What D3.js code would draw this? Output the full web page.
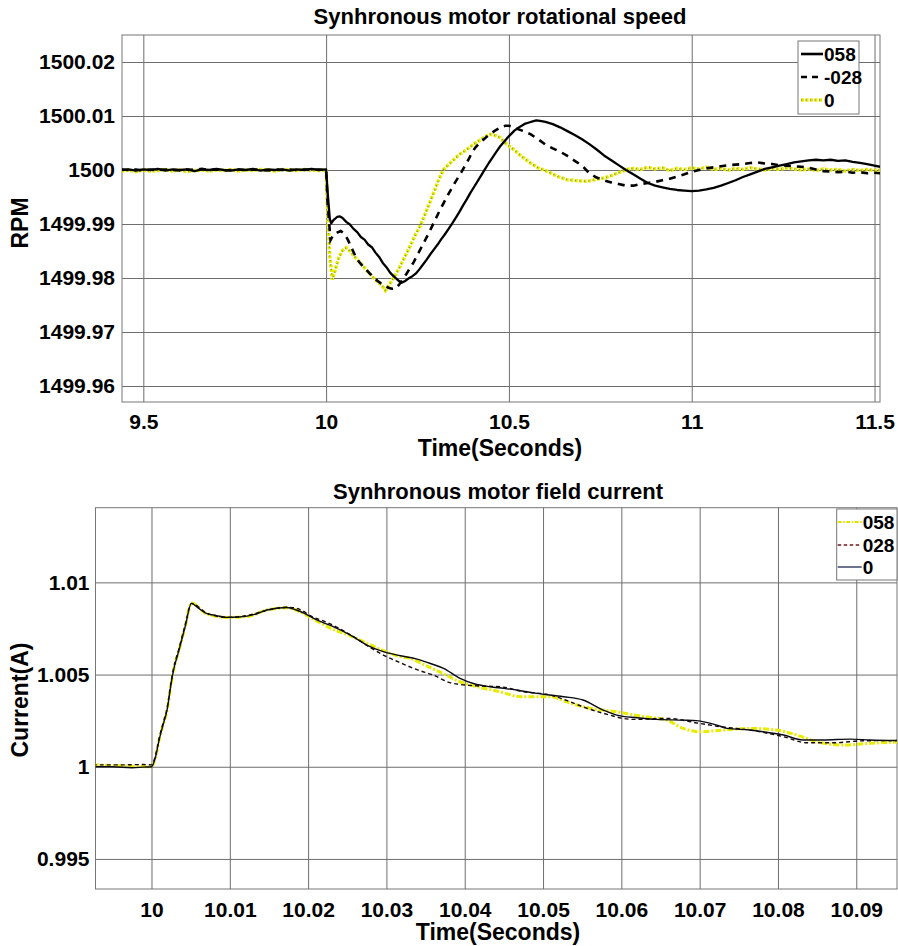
<!DOCTYPE html>
<html>
<head>
<meta charset="utf-8">
<script src="https://cdn.jsdelivr.net/npm/d3@7"></script>
<style>
  body { margin: 0; background: #fff; }
  svg text { font-family: "Liberation Sans", Arial, sans-serif; font-weight: bold; fill: #000; }
</style>
</head>
<body>
<div id="chart"></div>
<script>
// ---------- Top plot: rotational speed (RPM) ----------
var speedTicksX = [9.5, 10, 10.5, 11, 11.5];
var speedTicksY = [1499.96, 1499.97, 1499.98, 1499.99, 1500, 1500.01, 1500.02];

var speedTime058 = [9.44, 9.46, 9.48, 9.50, 9.52, 9.54, 9.56, 9.58, 9.60, 9.62, 9.64, 9.66, 9.68, 9.70, 9.72, 9.74, 9.76, 9.78, 9.80, 9.82, 9.84, 9.86, 9.88, 9.90, 9.92, 9.94, 9.96, 9.98, 10.00,
  10.004, 10.010, 10.014, 10.020, 10.030, 10.038, 10.045, 10.055, 10.065, 10.075, 10.085, 10.095, 10.105, 10.115, 10.125, 10.135, 10.145, 10.155, 10.165, 10.175, 10.185, 10.195, 10.205,
  10.215, 10.225, 10.235, 10.245, 10.255, 10.265, 10.275, 10.285, 10.295, 10.305, 10.315, 10.325, 10.335, 10.345, 10.355, 10.365, 10.375, 10.385, 10.395, 10.405, 10.415, 10.425, 10.435, 10.445,
  10.455, 10.465, 10.475, 10.485, 10.495, 10.505, 10.515, 10.525, 10.535, 10.545, 10.555, 10.565, 10.575, 10.585, 10.60, 10.62, 10.64, 10.66, 10.68, 10.70, 10.72, 10.74, 10.76, 10.78, 10.80,
  10.82, 10.84, 10.86, 10.88, 10.90, 10.92, 10.94, 10.96, 10.98, 11.00, 11.02, 11.04, 11.06, 11.08, 11.10, 11.12, 11.14, 11.16, 11.18, 11.20, 11.22, 11.24, 11.26, 11.28, 11.30, 11.32, 11.34,
  11.36, 11.38, 11.40, 11.42, 11.44, 11.46, 11.48, 11.50, 11.515];
var speed058 = [1500.0000, 1500.0001, 1499.9999, 1500.0001, 1500.0000, 1500.0002, 1499.9999, 1500.0001, 1500.0000, 1500.0001, 1499.9998, 1500.0001, 1500.0000, 1500.0002, 1500.0000, 1499.9999, 1500.0001, 1500.0000, 1500.0002, 1499.9999, 1500.0001, 1500.0000, 1500.0001, 1499.9999, 1500.0001, 1500.0000, 1500.0002, 1500.0000, 1500.0001,
  1499.9960, 1499.9910, 1499.9901, 1499.9907, 1499.9913, 1499.9914, 1499.9911, 1499.9904, 1499.9899, 1499.9891, 1499.9885, 1499.9876, 1499.9871, 1499.9862, 1499.9857, 1499.9847, 1499.9839, 1499.9828, 1499.9820, 1499.9810, 1499.9803, 1499.9797, 1499.9791,
  1499.9794, 1499.9799, 1499.9803, 1499.9808, 1499.9816, 1499.9825, 1499.9834, 1499.9844, 1499.9853, 1499.9862, 1499.9872, 1499.9881, 1499.9891, 1499.9901, 1499.9912, 1499.9923, 1499.9935, 1499.9946, 1499.9958, 1499.9969, 1499.9980, 1499.9991, 1500.0002, 1500.0013,
  1500.0023, 1500.0033, 1500.0043, 1500.0051, 1500.0059, 1500.0066, 1500.0073, 1500.0078, 1500.0082, 1500.0086, 1500.0088, 1500.0090, 1500.0092, 1500.0091, 1500.0089, 1500.0085, 1500.0079, 1500.0072, 1500.0065, 1500.0057, 1500.0048, 1500.0038, 1500.0027, 1500.0018, 1500.0009,
  1500.0000, 1499.9992, 1499.9984, 1499.9976, 1499.9971, 1499.9968, 1499.9965, 1499.9963, 1499.9962, 1499.9961, 1499.9962, 1499.9964, 1499.9967, 1499.9971, 1499.9976, 1499.9981, 1499.9987, 1499.9992, 1499.9997, 1500.0002, 1500.0005, 1500.0008, 1500.0011, 1500.0014, 1500.0016, 1500.0018, 1500.0019,
  1500.0018, 1500.0019, 1500.0017, 1500.0018, 1500.0015, 1500.0013, 1500.0011, 1500.0008, 1500.0006];

var speedTime028 = [9.44, 9.46, 9.48, 9.50, 9.52, 9.54, 9.56, 9.58, 9.60, 9.62, 9.64, 9.66, 9.68, 9.70, 9.72, 9.74, 9.76, 9.78, 9.80, 9.82, 9.84, 9.86, 9.88, 9.90, 9.92, 9.94, 9.96, 9.98, 10.00,
  10.004, 10.012, 10.020, 10.030, 10.040, 10.050, 10.060, 10.070, 10.080, 10.090, 10.100, 10.110, 10.120, 10.130, 10.140, 10.150, 10.160, 10.170, 10.180, 10.190, 10.200, 10.210, 10.220, 10.230,
  10.240, 10.250, 10.260, 10.270, 10.280, 10.290, 10.300, 10.310, 10.320, 10.330, 10.340, 10.350, 10.360, 10.370, 10.380, 10.390, 10.400, 10.410, 10.420, 10.430, 10.440, 10.450, 10.460, 10.470,
  10.480, 10.490, 10.500, 10.510, 10.520, 10.540, 10.560, 10.580, 10.600, 10.620, 10.640, 10.660, 10.680, 10.700, 10.720, 10.740, 10.760, 10.780, 10.800, 10.820, 10.840, 10.860, 10.880, 10.900,
  10.920, 10.940, 10.960, 10.980, 11.000, 11.020, 11.040, 11.060, 11.080, 11.100, 11.120, 11.140, 11.160, 11.180, 11.200, 11.220, 11.240, 11.260, 11.280, 11.300, 11.320, 11.340, 11.360, 11.380,
  11.400, 11.420, 11.440, 11.460, 11.480, 11.500, 11.515];
var speed028 = [1500.0001, 1500.0000, 1500.0001, 1499.9999, 1500.0001, 1500.0000, 1500.0001, 1500.0000, 1499.9999, 1500.0001, 1500.0000, 1500.0002, 1500.0000, 1500.0001, 1499.9999, 1500.0000, 1500.0001, 1500.0000, 1500.0001, 1500.0000, 1499.9999, 1500.0001, 1500.0000, 1500.0001, 1500.0000, 1500.0001, 1500.0000, 1500.0001, 1500.0000,
  1499.9940, 1499.9870, 1499.9880, 1499.9884, 1499.9887, 1499.9882, 1499.9870, 1499.9855, 1499.9841, 1499.9830, 1499.9822, 1499.9815, 1499.9808, 1499.9802, 1499.9795, 1499.9790, 1499.9786, 1499.9782, 1499.9780, 1499.9780, 1499.9788, 1499.9798, 1499.9808, 1499.9819,
  1499.9830, 1499.9843, 1499.9856, 1499.9869, 1499.9882, 1499.9896, 1499.9910, 1499.9924, 1499.9937, 1499.9950, 1499.9962, 1499.9974, 1499.9985, 1499.9996, 1500.0008, 1500.0020, 1500.0034, 1500.0043, 1500.0050, 1500.0056, 1500.0062, 1500.0067, 1500.0072, 1500.0076,
  1500.0080, 1500.0082, 1500.0082, 1500.0080, 1500.0077, 1500.0072, 1500.0066, 1500.0057, 1500.0047, 1500.0040, 1500.0034, 1500.0026, 1500.0017, 1500.0008, 1499.9994, 1499.9986, 1499.9981, 1499.9977, 1499.9974, 1499.9971, 1499.9971, 1499.9974, 1499.9976, 1499.9978,
  1499.9981, 1499.9984, 1499.9988, 1499.9992, 1499.9997, 1500.0000, 1500.0003, 1500.0005, 1500.0007, 1500.0009, 1500.0010, 1500.0011, 1500.0013, 1500.0014, 1500.0012, 1500.0011, 1500.0009, 1500.0008, 1500.0007, 1500.0006, 1500.0004, 1500.0001, 1499.9998, 1499.9997,
  1499.9996, 1499.9997, 1499.9995, 1499.9996, 1499.9994, 1499.9995, 1499.9994];

var speedTime0 = [9.44, 9.46, 9.48, 9.50, 9.52, 9.54, 9.56, 9.58, 9.60, 9.62, 9.64, 9.66, 9.68, 9.70, 9.72, 9.74, 9.76, 9.78, 9.80, 9.82, 9.84, 9.86, 9.88, 9.90, 9.92, 9.94, 9.96, 9.98, 10.00,
  10.004, 10.010, 10.017, 10.025, 10.035, 10.045, 10.055, 10.065, 10.075, 10.085, 10.095, 10.105, 10.115, 10.125, 10.135, 10.145, 10.153, 10.162, 10.170, 10.176, 10.186, 10.198, 10.210, 10.221,
  10.233, 10.245, 10.257, 10.270, 10.283, 10.296, 10.308, 10.321, 10.335, 10.349, 10.365, 10.385, 10.400, 10.422, 10.435, 10.449, 10.462, 10.476, 10.490, 10.503, 10.513, 10.530, 10.545, 10.559,
  10.580, 10.604, 10.630, 10.659, 10.690, 10.714, 10.740, 10.760, 10.778, 10.800, 10.823, 10.84, 10.86, 10.88, 10.90, 10.92, 10.94, 10.96, 10.98, 11.00, 11.02, 11.04, 11.06, 11.08, 11.10,
  11.12, 11.14, 11.16, 11.18, 11.20, 11.22, 11.24, 11.26, 11.28, 11.30, 11.32, 11.34, 11.36, 11.38, 11.40, 11.42, 11.44, 11.46, 11.48, 11.50, 11.515];
var speed0 = [1499.9998, 1500.0000, 1499.9997, 1500.0000, 1499.9998, 1499.9999, 1500.0001, 1499.9998, 1500.0000, 1499.9997, 1499.9999, 1500.0000, 1499.9998, 1500.0000, 1499.9999, 1500.0001, 1499.9998, 1500.0000, 1499.9999, 1500.0001, 1500.0000, 1499.9998, 1500.0001, 1500.0000, 1499.9999, 1500.0001, 1500.0000, 1499.9999, 1500.0000,
  1499.9920, 1499.9840, 1499.9797, 1499.9815, 1499.9838, 1499.9851, 1499.9856, 1499.9850, 1499.9842, 1499.9834, 1499.9827, 1499.9819, 1499.9811, 1499.9804, 1499.9796, 1499.9791, 1499.9786, 1499.9777, 1499.9784, 1499.9791, 1499.9802, 1499.9816, 1499.9832, 1499.9847,
  1499.9864, 1499.9881, 1499.9896, 1499.9917, 1499.9939, 1499.9961, 1499.9982, 1500.0001, 1500.0010, 1500.0019, 1500.0029, 1500.0038, 1500.0046, 1500.0056, 1500.0062, 1500.0066, 1500.0064, 1500.0060, 1500.0050, 1500.0043, 1500.0038, 1500.0028, 1500.0020, 1500.0013,
  1500.0004, 1499.9998, 1499.9989, 1499.9982, 1499.9980, 1499.9979, 1499.9983, 1499.9985, 1499.9989, 1499.9995, 1500.0001, 1500.0003, 1500.0001, 1500.0005, 1500.0002, 1500.0004, 1499.9999, 1500.0003, 1500.0001, 1500.0004, 1500.0002, 1500.0005, 1500.0001, 1500.0003, 1500.0000,
  1500.0003, 1500.0001, 1500.0004, 1500.0002, 1500.0000, 1500.0003, 1500.0001, 1500.0004, 1500.0002, 1500.0000, 1500.0002, 1499.9999, 1500.0002, 1500.0000, 1500.0001, 1499.9998, 1500.0001, 1499.9999, 1500.0001, 1499.9999, 1500.0000];

// ---------- Bottom plot: field current (A) ----------
var currentTicksX = [10, 10.01, 10.02, 10.03, 10.04, 10.05, 10.06, 10.07, 10.08, 10.09];
var currentTicksY = [0.995, 1, 1.005, 1.01];

var currentTime058 = [9.9925, 9.9960, 10.0000, 10.0005, 10.0010, 10.0015, 10.0020, 10.0025, 10.0028, 10.0035, 10.0043, 10.0051, 10.0070, 10.0096, 10.0122, 10.0147, 10.0173, 10.0190, 10.0207, 10.0232,
  10.0254, 10.0275, 10.0296, 10.0315, 10.0330, 10.0350, 10.0370, 10.0394, 10.0420, 10.0445, 10.0471, 10.0509, 10.0530, 10.0560, 10.0594, 10.0624, 10.0658, 10.0679, 10.0700, 10.0730, 10.0764,
  10.0798, 10.0824, 10.0849, 10.0884, 10.0918, 10.0952];
var current058 = [1.0001, 1.00005, 1.0000, 1.0005, 1.0015, 1.0023, 1.0031, 1.0045, 1.0052, 1.0063, 1.0076, 1.00888, 1.0083, 1.0081, 1.00815, 1.0085, 1.00862, 1.0084, 1.0080, 1.00745,
  1.0071, 1.0067, 1.0063, 1.0060, 1.00588, 1.0055, 1.0051, 1.00461, 1.0043, 1.00407, 1.0038, 1.0038, 1.00352, 1.00317, 1.00298, 1.00275, 1.00253, 1.00208, 1.0019, 1.00199, 1.00208,
  1.00199, 1.00172, 1.00136, 1.00118, 1.00127, 1.00134];

var currentTime028 = [9.9925, 9.9960, 9.9990, 10.0000, 10.0005, 10.0010, 10.0015, 10.0020, 10.0025, 10.0028, 10.0035, 10.0043, 10.0051, 10.0070, 10.0096, 10.0122, 10.0147, 10.0173, 10.0185, 10.0207,
  10.0220, 10.0240, 10.0260, 10.0280, 10.0296, 10.0320, 10.0340, 10.0360, 10.0381, 10.0410, 10.0445, 10.0475, 10.0509, 10.0530, 10.0551, 10.0577, 10.0615, 10.0658, 10.0700, 10.0722, 10.0764,
  10.0807, 10.0837, 10.0871, 10.0909, 10.0952];
var current028 = [1.0001, 1.0001, 1.00012, 1.0001, 1.0006, 1.0016, 1.0024, 1.0032, 1.0046, 1.0053, 1.0064, 1.0077, 1.00886, 1.00835, 1.0081, 1.0082, 1.00848, 1.00865, 1.0086, 1.0081,
  1.0079, 1.0075, 1.0070, 1.00645, 1.00606, 1.0056, 1.00525, 1.00497, 1.00456, 1.0044, 1.00434, 1.00407, 1.00389, 1.0036, 1.00325, 1.0029, 1.00257, 1.00262, 1.00235, 1.0022, 1.00199,
  1.00163, 1.0013, 1.0013, 1.00141, 1.00142];

var currentTime0 = [9.9925, 9.9950, 9.9975, 9.9990, 10.0000, 10.0005, 10.0010, 10.0015, 10.0020, 10.0025, 10.0028, 10.0035, 10.0043, 10.0051, 10.0060, 10.0070, 10.0083, 10.0096, 10.0110, 10.0122,
  10.0135, 10.0147, 10.0160, 10.0173, 10.0185, 10.0196, 10.0207, 10.0220, 10.0232, 10.0254, 10.0275, 10.0296, 10.0318, 10.0339, 10.0356, 10.0373, 10.0394, 10.0412, 10.0432, 10.0450, 10.0466,
  10.0492, 10.0526, 10.0551, 10.0577, 10.0594, 10.0620, 10.0645, 10.0679, 10.0696, 10.0722, 10.0735, 10.0764, 10.0781, 10.0807, 10.0832, 10.0858, 10.0892, 10.0918, 10.0952];
var current0 = [1.0000, 1.0000, 0.99995, 0.99998, 1.0000, 1.0005, 1.0015, 1.0023, 1.0031, 1.0045, 1.0052, 1.0063, 1.0076, 1.00886, 1.0086, 1.00832, 1.0082, 1.0081, 1.00812, 1.00817,
  1.0083, 1.0085, 1.0086, 1.00864, 1.0085, 1.0083, 1.00805, 1.0078, 1.0076, 1.00714, 1.0066, 1.00624, 1.00602, 1.00584, 1.0056, 1.00534, 1.00479, 1.0045, 1.00434, 1.00425, 1.00416,
  1.00398, 1.0038, 1.00362, 1.00307, 1.0028, 1.00266, 1.00257, 1.00253, 1.0025, 1.00226, 1.00208, 1.00199, 1.0019, 1.00172, 1.00145, 1.00145, 1.0015, 1.00145, 1.00142];

function zip(ts, vs) {
    return ts.map(function (t, i) { return {t: t, v: vs[i]}; });
}

var svg = d3.select("#chart")
    .append("svg")
    .attr("width", 898)
    .attr("height", 946);

// Draws one framed panel and returns its scales and group
function panel(opt) {
    var w = opt.right - opt.left, h = opt.bottom - opt.top;
    var x = d3.scaleLinear().domain(opt.xDomain).range([0, w]);
    var y = d3.scaleLinear().domain(opt.yDomain).range([h, 0]);

    var g = svg.append("g").attr("transform", `translate(${opt.left},${opt.top})`);

    g.append("defs").append("clipPath").attr("id", opt.id)
        .append("rect").attr("width", w).attr("height", h);

    // Grid
    g.append("g")
        .attr("transform", `translate(0,${h})`)
        .call(d3.axisBottom(x).tickValues(opt.xTicks).tickSize(-h).tickFormat(""))
        .call(s => s.select(".domain").remove())
        .selectAll("line").attr("stroke", "#6e6e6e").attr("stroke-width", 1);
    g.append("g")
        .call(d3.axisLeft(y).tickValues(opt.yTicks).tickSize(-w).tickFormat(""))
        .call(s => s.select(".domain").remove())
        .selectAll("line").attr("stroke", "#6e6e6e").attr("stroke-width", 1);

    // Tick labels
    g.append("g")
        .attr("transform", `translate(0,${h})`)
        .call(d3.axisBottom(x).tickValues(opt.xTicks).tickSize(0).tickPadding(opt.xPad).tickFormat(d3.format("")))
        .call(s => s.select(".domain").remove())
        .selectAll("text").attr("font-size", 21).attr("font-family", null);
    g.append("g")
        .call(d3.axisLeft(y).tickValues(opt.yTicks).tickSize(0).tickPadding(opt.yPad).tickFormat(d3.format("")))
        .call(s => s.select(".domain").remove())
        .selectAll("text").attr("font-size", 21).attr("font-family", null);

    // Frame
    g.append("rect")
        .attr("width", w).attr("height", h)
        .attr("fill", "none").attr("stroke", "#777").attr("stroke-width", 1);

    // Title and axis labels
    svg.append("text")
        .attr("x", opt.titleX).attr("y", opt.titleY)
        .attr("text-anchor", "middle").attr("font-size", 22)
        .text(opt.title);
    svg.append("text")
        .attr("x", opt.titleX).attr("y", opt.xLabelY)
        .attr("text-anchor", "middle").attr("font-size", 23)
        .text("Time(Seconds)");
    svg.append("text")
        .attr("transform", `translate(${opt.yLabelX},${opt.yLabelY}) rotate(-90)`)
        .attr("text-anchor", "middle").attr("font-size", 23)
        .text(opt.yLabel);

    var plot = g.append("g").attr("clip-path", `url(#${opt.id})`);
    return {x: x, y: y, g: g, plot: plot};
}

// ----- Top panel -----
var speedPanel = panel({
    id: "clipTop", left: 122, right: 880, top: 35, bottom: 402,
    xDomain: [9.4417, 11.515], yDomain: [1499.95704, 1500.025],
    xTicks: speedTicksX, yTicks: speedTicksY, xPad: 12, yPad: 7,
    title: "Synhronous motor rotational speed", titleX: 500, titleY: 24,
    xLabelY: 456, yLabel: "RPM", yLabelX: 28, yLabelY: 223
});

var lineTop = d3.line().x(d => speedPanel.x(d.t)).y(d => speedPanel.y(d.v));

// series "0": yellow dotted trace with darker specks
speedPanel.plot.append("path").datum(zip(speedTime0, speed0))
    .attr("d", lineTop).attr("fill", "none")
    .attr("stroke", "#e8ec00").attr("stroke-width", 3.5).attr("stroke-dasharray", "3,1.5");
speedPanel.plot.append("path").datum(zip(speedTime0, speed0))
    .attr("d", lineTop).attr("fill", "none")
    .attr("stroke", "#8a9a30").attr("stroke-width", 1.4).attr("stroke-dasharray", "1.2,3.3");
// series "-028": dashed black
speedPanel.plot.append("path").datum(zip(speedTime028, speed028))
    .attr("d", lineTop).attr("fill", "none")
    .attr("stroke", "#000").attr("stroke-width", 2.6).attr("stroke-dasharray", "7,6");
// series "058": solid black
speedPanel.plot.append("path").datum(zip(speedTime058, speed058))
    .attr("d", lineTop).attr("fill", "none")
    .attr("stroke", "#000").attr("stroke-width", 2.3).attr("stroke-linejoin", "round");

// Legend top
var legTop = svg.append("g").attr("transform", "translate(798,41)");
legTop.append("rect").attr("width", 61).attr("height", 73)
    .attr("fill", "#fff").attr("stroke", "#777").attr("stroke-width", 1);
var legTopItems = [
    {name: "058", stroke: "#000", width: 2.6, dash: null, y: 13},
    {name: "-028", stroke: "#000", width: 2.6, dash: "6,5", y: 36},
    {name: "0", stroke: "#e8ec00", width: 3.5, dash: "3,1.5", y: 59}
];
legTopItems.forEach(function (d) {
    legTop.append("line").attr("x1", 3).attr("x2", 25).attr("y1", d.y).attr("y2", d.y)
        .attr("stroke", d.stroke).attr("stroke-width", d.width).attr("stroke-dasharray", d.dash);
    legTop.append("text").attr("x", 26).attr("y", d.y + 7).attr("font-size", 19).text(d.name);
});
legTop.append("line").attr("x1", 3).attr("x2", 25).attr("y1", 59).attr("y2", 59)
    .attr("stroke", "#8a9a30").attr("stroke-width", 1.4).attr("stroke-dasharray", "1.2,3.3");

// ----- Bottom panel -----
var currentPanel = panel({
    id: "clipBot", left: 95.5, right: 897, top: 507.7, bottom: 889,
    xDomain: [9.99285, 10.0952], yDomain: [0.99337, 1.01405],
    xTicks: currentTicksX, yTicks: currentTicksY, xPad: 13, yPad: 6,
    title: "Synhronous motor field current", titleX: 498, titleY: 499,
    xLabelY: 940, yLabel: "Current(A)", yLabelX: 28, yLabelY: 700
});

var lineBot = d3.line().x(d => currentPanel.x(d.t)).y(d => currentPanel.y(d.v)).curve(d3.curveMonotoneX);

currentPanel.plot.append("path").datum(zip(currentTime058, current058))
    .attr("d", lineBot).attr("fill", "none")
    .attr("stroke", "#e8ec00").attr("stroke-width", 3).attr("stroke-dasharray", "6,2,2,2");
currentPanel.plot.append("path").datum(zip(currentTime028, current028))
    .attr("d", lineBot).attr("fill", "none")
    .attr("stroke", "#1a0808").attr("stroke-width", 1.4).attr("stroke-dasharray", "4,3");
currentPanel.plot.append("path").datum(zip(currentTime0, current0))
    .attr("d", lineBot).attr("fill", "none")
    .attr("stroke", "#0a0a14").attr("stroke-width", 1.4);

// Legend bottom
var legBot = svg.append("g").attr("transform", "translate(836.7,509)");
legBot.append("rect").attr("width", 60.3).attr("height", 71)
    .attr("fill", "#fff").attr("stroke", "#777").attr("stroke-width", 1);
var legBotItems = [
    {name: "058", stroke: "#e0e400", width: 2, dash: "4,1.5,1.5,1.5", y: 13},
    {name: "028", stroke: "#6a1a1a", width: 1.5, dash: "3.5,2.5", y: 36},
    {name: "0", stroke: "#1c2a50", width: 1.3, dash: null, y: 58}
];
legBotItems.forEach(function (d) {
    legBot.append("line").attr("x1", 1).attr("x2", 25).attr("y1", d.y).attr("y2", d.y)
        .attr("stroke", d.stroke).attr("stroke-width", d.width).attr("stroke-dasharray", d.dash);
    legBot.append("text").attr("x", 26).attr("y", d.y + 7).attr("font-size", 19).text(d.name);
});
</script>
</body>
</html>
